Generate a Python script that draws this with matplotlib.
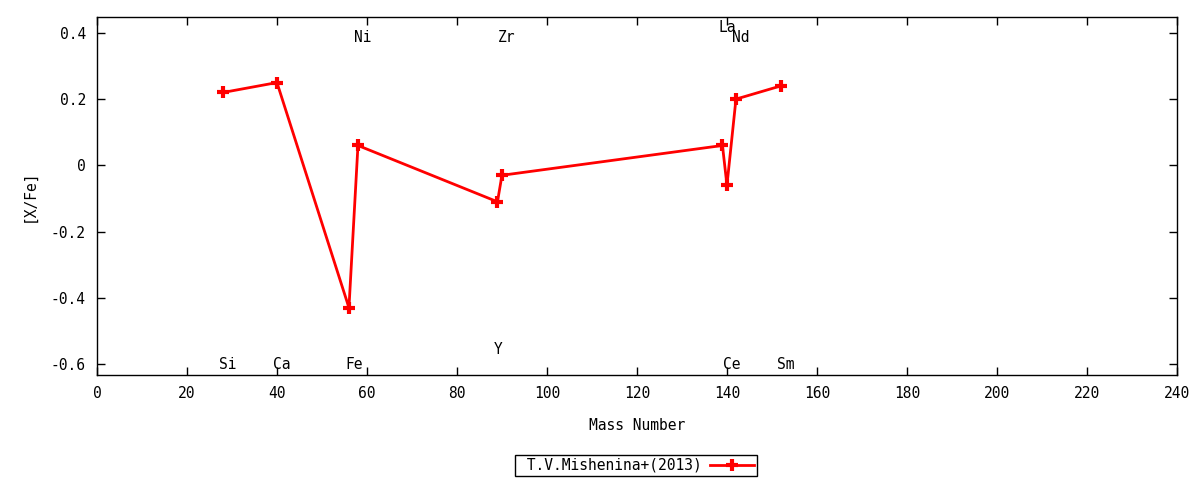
import matplotlib
matplotlib.use("Agg")
import matplotlib.pyplot as plt

# --- DATA ---
elements = ["Si", "Ca", "Fe", "Ni", "Y", "Zr", "La", "Ce", "Nd", "Sm"]
mass = [28, 40, 56, 58, 89, 90, 139, 140, 142, 152]
x_fe = [0.22, 0.25, -0.43, 0.06, -0.11, -0.03, 0.06, -0.06, 0.20, 0.24]
label_y = [-0.6, -0.6, -0.6, 0.385, -0.555, 0.385, 0.415, -0.6, 0.385, -0.6]
x_ticks = list(range(0, 241, 20))
y_ticks = [-0.6, -0.4, -0.2, 0, 0.2, 0.4]
y_tick_labels = ["-0.6", "-0.4", "-0.2", "0", "0.2", "0.4"]

plt.rcParams["font.family"] = ["DejaVu Sans Mono"]
plt.rcParams["font.size"] = 10.5

fig = plt.figure(figsize=(12, 4.8), dpi=100)
ax = fig.add_axes([0.0808, 0.2188, 0.9, 0.7458])

ax.plot(mass, x_fe, color="red", linewidth=2, marker="+", markersize=9,
        markeredgewidth=3, label="T.V.Mishenina+(2013)")

for el, m, ly in zip(elements, mass, label_y):
    ax.text(m - 0.8, ly, el, ha="left", va="center", fontsize=10.5)

ax.set_xlim(0, 240)
ax.set_ylim(-0.633, 0.448)
ax.set_xticks(x_ticks)
ax.set_yticks(y_ticks)
ax.set_yticklabels(y_tick_labels)
ax.tick_params(direction="in", top=True, right=True, length=6, width=1, pad=8)
for s in ax.spines.values():
    s.set_linewidth(1)

ax.set_xlabel("Mass Number", labelpad=12)
ax.set_ylabel("[X/Fe]", labelpad=10)

fig.legend(loc="center", bbox_to_anchor=(0.53, 0.031), markerfirst=False,
           frameon=True, fancybox=False, edgecolor="black", framealpha=1,
           borderpad=0.2, borderaxespad=0, handlelength=3, handletextpad=0.6)
leg = fig.legends[0]
leg.get_texts()[0].set_text(" T.V.Mishenina+(2013)")

fig.savefig("out.png", dpi=100)
